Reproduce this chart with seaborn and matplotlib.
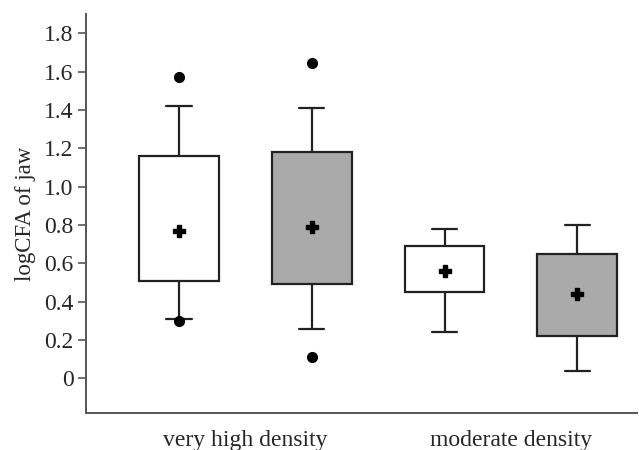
import numpy as np
import matplotlib
matplotlib.use("Agg")
import matplotlib.pyplot as plt
import seaborn as sns

# values (logCFA of jaw)
groups = ["very high density", "very high density", "moderate density", "moderate density"]
q1 = [0.51, 0.49, 0.45, 0.22]
q3 = [1.16, 1.18, 0.69, 0.65]
whisker_low = [0.31, 0.26, 0.24, 0.04]
whisker_high = [1.42, 1.41, 0.78, 0.80]
means = [0.77, 0.79, 0.56, 0.44]
outliers = [[1.57, 0.30], [1.645, 0.11], [], []]
fills = ["white", "#aaaaaa", "white", "#aaaaaa"]

sns.set_style("ticks")
plt.rcParams['font.family'] = ['Liberation Serif', 'DejaVu Serif']

stats = []
for i in range(len(groups)):
    stats.append({
        "label": groups[i],
        "q1": q1[i], "q3": q3[i], "med": q1[i],
        "whislo": whisker_low[i], "whishi": whisker_high[i],
        "mean": means[i], "fliers": outliers[i],
    })

fig = plt.figure(figsize=(6.39, 4.5), dpi=100)
ax = fig.add_axes([0.1346, 0.0822, 0.8624, 0.8868])

edge = "#222222"
bp = ax.bxp(stats, positions=range(4), widths=0.6, capwidths=0.19,
            patch_artist=True, showmeans=True, showcaps=True,
            boxprops=dict(edgecolor=edge, linewidth=1.6),
            whiskerprops=dict(color=edge, linewidth=1.6),
            capprops=dict(color=edge, linewidth=1.6),
            medianprops=dict(linewidth=0),
            meanprops=dict(marker="P", markerfacecolor="black", markeredgecolor="black",
                           markersize=8),
            flierprops=dict(marker="o", markerfacecolor="black", markeredgecolor="black",
                            markersize=7))
for patch, c in zip(bp["boxes"], fills):
    patch.set_facecolor(c)

ax.set_xlim(-0.70, 3.45)
ax.set_ylim(-0.18, 1.90)
ax.set_yticks([0, 0.2, 0.4, 0.6, 0.8, 1.0, 1.2, 1.4, 1.6, 1.8])
ax.set_yticklabels(["0", "0.2", "0.4", "0.6", "0.8", "1.0", "1.2", "1.4", "1.6", "1.8"])
ax.set_xticks([0.5, 2.5])
ax.set_xticklabels(["very high density", "moderate density"])
ax.tick_params(axis="x", length=0, pad=12, labelsize=17)
ax.tick_params(axis="y", length=6, width=1.2, color="#555555", pad=3, labelsize=17)
ax.set_ylabel("logCFA of jaw", fontsize=16.5, labelpad=6)

sns.despine(ax=ax)
for s in ["left", "bottom"]:
    ax.spines[s].set_color("#555555")
    ax.spines[s].set_linewidth(1.4)

fig.savefig("out.png", dpi=100)
